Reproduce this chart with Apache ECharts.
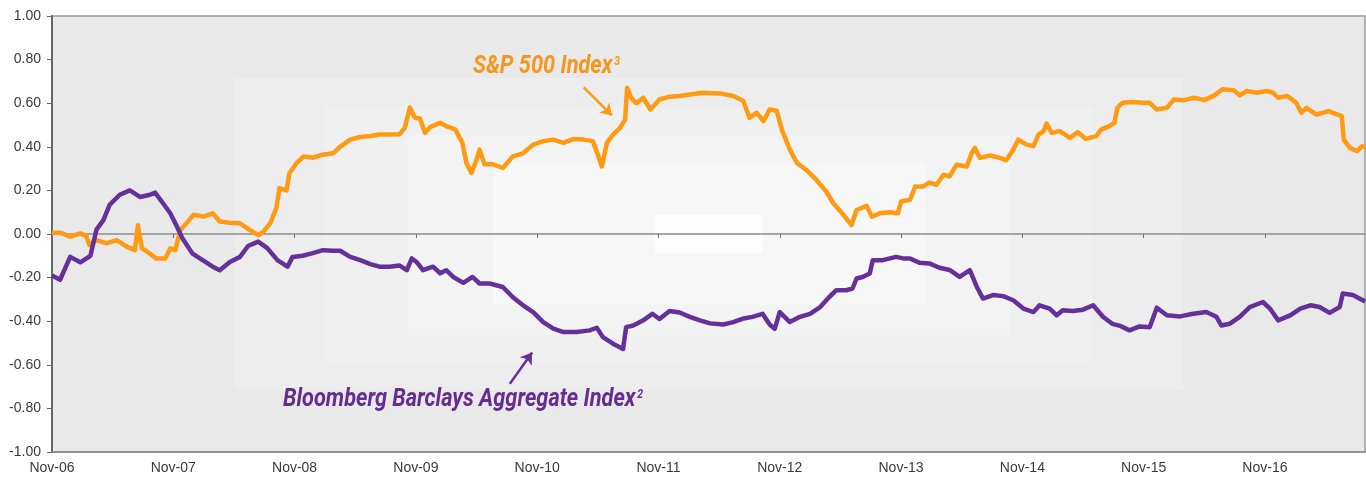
<!DOCTYPE html>
<html>
<head>
<meta charset="utf-8">
<script src="https://cdn.jsdelivr.net/npm/echarts@6/dist/echarts.min.js"></script>
<style>
  html, body { margin: 0; padding: 0; background: #fff; }
  #chart { width: 1366px; height: 478px; }
</style>
</head>
<body>
<div id="chart"></div>
<script>
// x positions are months since Nov-06
const xTickLabels = ["Nov-06", "Nov-07", "Nov-08", "Nov-09", "Nov-10", "Nov-11", "Nov-12", "Nov-13", "Nov-14", "Nov-15", "Nov-16"];

const spxMonths = [0, 0.8, 1.8, 2.8, 3.4, 3.7, 4.4, 5.4, 6.4, 7.4, 8.2, 8.5, 8.9, 9.7, 10.3, 11.2, 11.7, 12.2, 12.7, 13.3,
  14.0, 15.0, 15.9, 16.6, 17.6, 18.6, 19.6, 20.4, 20.9, 21.6, 22.2, 22.5, 23.2, 23.5, 24.2, 24.9, 25.8, 26.8, 27.8, 28.5,
  29.5, 30.5, 31.5, 32.4, 33.4, 34.4, 34.9, 35.4, 35.9, 36.4, 36.9, 37.4, 38.4, 39.0, 39.9, 40.6, 41.0, 41.5, 42.0, 42.3,
  42.8, 43.6, 44.6, 45.6, 46.6, 47.6, 48.6, 49.6, 50.6, 51.6, 52.6, 53.5, 54.0, 54.4, 54.9, 55.5, 56.2, 56.7, 56.9, 57.3,
  57.8, 58.5, 59.2, 60.1, 61.1, 62.1, 63.1, 64.4, 66.1, 67.4, 68.4, 69.0, 69.7, 70.4, 71.0, 71.7, 72.2, 73.0, 73.7, 74.6,
  75.6, 76.6, 77.3, 78.3, 79.1, 79.6, 80.6, 81.1, 81.9, 82.9, 83.7, 84.0, 84.9, 85.4, 86.2, 86.8, 87.5, 88.2, 88.8, 89.5,
  90.5, 91.0, 91.3, 91.8, 92.8, 93.8, 94.4, 95.1, 95.6, 96.4, 97.1, 97.6, 98.1, 98.4, 98.9, 99.7, 100.7, 101.5, 102.3, 103.3,
  103.8, 104.6, 105.1, 105.4, 105.9, 106.9, 107.9, 108.6, 109.3, 110.3, 111.0, 112.0, 113.0, 114.0, 115.0, 115.8, 116.9, 117.5, 118.2, 119.2,
  120.2, 120.8, 121.3, 122.2, 123.1, 123.6, 124.1, 125.1, 126.3, 127.6, 127.8, 128.4, 129.1, 129.6, 129.9];
const spxCorr = [0.006, 0.006, -0.012, 0.003, -0.01, -0.05, -0.028, -0.043, -0.028, -0.058, -0.074, 0.04, -0.066, -0.09, -0.112, -0.112, -0.066, -0.074, 0.018, 0.049,
  0.088, 0.08, 0.095, 0.057, 0.052, 0.049, 0.018, -0.005, 0.01, 0.05, 0.12, 0.21, 0.2, 0.28, 0.326, 0.356, 0.35, 0.364, 0.37, 0.40,
  0.433, 0.445, 0.45, 0.456, 0.456, 0.458, 0.487, 0.58, 0.533, 0.53, 0.464, 0.49, 0.51, 0.495, 0.48, 0.418, 0.326, 0.28, 0.34, 0.387,
  0.32, 0.32, 0.303, 0.356, 0.37, 0.41, 0.426, 0.433, 0.418, 0.436, 0.433, 0.426, 0.364, 0.31, 0.418, 0.456, 0.487, 0.525, 0.671, 0.625,
  0.60, 0.625, 0.571, 0.617, 0.63, 0.633, 0.64, 0.648, 0.645, 0.633, 0.61, 0.533, 0.556, 0.518, 0.571, 0.565, 0.479, 0.387, 0.326, 0.295,
  0.249, 0.195, 0.141, 0.088, 0.041, 0.11, 0.129, 0.08, 0.095, 0.1, 0.095, 0.149, 0.157, 0.218, 0.218, 0.236, 0.226, 0.272, 0.264, 0.318,
  0.31, 0.372, 0.395, 0.349, 0.36, 0.349, 0.338, 0.387, 0.433, 0.41, 0.403, 0.456, 0.472, 0.507, 0.464, 0.472, 0.441, 0.467, 0.436, 0.449,
  0.479, 0.495, 0.51, 0.579, 0.602, 0.605, 0.602, 0.602, 0.571, 0.579, 0.617, 0.614, 0.625, 0.614, 0.636, 0.664, 0.66, 0.636, 0.656, 0.648,
  0.656, 0.648, 0.625, 0.633, 0.602, 0.556, 0.579, 0.548, 0.564, 0.541, 0.433, 0.395, 0.38, 0.402, 0.40];

const aggMonths = [0, 0.8, 1.8, 2.8, 3.8, 4.4, 5.1, 5.7, 6.7, 7.7, 8.7, 9.7, 10.2, 11.0, 11.7, 12.3, 12.9, 13.9, 14.9, 15.9,
  16.6, 17.6, 18.6, 19.4, 20.4, 21.3, 22.3, 23.3, 23.8, 24.8, 25.8, 26.8, 27.8, 28.5, 29.5, 30.5, 31.5, 32.4, 33.4, 34.4,
  35.1, 35.6, 36.1, 36.7, 37.7, 38.4, 39.0, 39.7, 40.7, 41.6, 42.3, 43.3, 44.6, 45.6, 46.6, 47.6, 48.6, 49.6, 50.6, 51.9,
  53.2, 53.9, 54.5, 55.5, 56.5, 56.8, 57.5, 58.5, 59.4, 60.1, 61.1, 62.1, 63.1, 64.1, 65.1, 66.4, 67.4, 68.3, 69.3, 70.3,
  71.0, 71.5, 72.0, 73.0, 74.0, 75.0, 76.0, 76.9, 77.6, 78.6, 79.2, 79.6, 80.2, 80.9, 81.2, 82.2, 83.5, 84.2, 84.9, 85.8,
  86.8, 87.8, 88.8, 89.8, 90.8, 91.5, 92.1, 93.1, 94.1, 95.1, 96.1, 97.1, 97.7, 98.7, 99.4, 100.0, 101.0, 102.0, 103.0, 104.0,
  104.9, 105.6, 106.6, 107.6, 108.6, 109.3, 110.3, 111.6, 112.9, 114.2, 115.2, 115.7, 116.5, 117.5, 118.5, 119.8, 120.5, 121.3, 122.5, 123.5,
  124.5, 125.4, 126.4, 127.4, 127.7, 128.7, 129.9];
const aggCorr = [-0.19, -0.21, -0.105, -0.13, -0.10, 0.02, 0.065, 0.134, 0.18, 0.20, 0.17, 0.18, 0.19, 0.14, 0.095, 0.04, -0.02, -0.09, -0.12, -0.15,
  -0.166, -0.128, -0.105, -0.055, -0.035, -0.065, -0.12, -0.15, -0.105, -0.10, -0.088, -0.074, -0.077, -0.077, -0.105, -0.12, -0.138, -0.15, -0.15, -0.145,
  -0.166, -0.112, -0.13, -0.166, -0.15, -0.18, -0.166, -0.197, -0.224, -0.197, -0.227, -0.227, -0.243, -0.29, -0.327, -0.358, -0.404, -0.434, -0.45, -0.45,
  -0.442, -0.43, -0.473, -0.503, -0.527, -0.427, -0.42, -0.396, -0.366, -0.39, -0.353, -0.36, -0.38, -0.396, -0.41, -0.415, -0.404, -0.389, -0.38, -0.366,
  -0.415, -0.435, -0.358, -0.404, -0.38, -0.366, -0.335, -0.289, -0.258, -0.258, -0.25, -0.204, -0.197, -0.181, -0.12, -0.12, -0.105, -0.112, -0.112, -0.132,
  -0.135, -0.155, -0.165, -0.197, -0.166, -0.243, -0.296, -0.28, -0.285, -0.304, -0.342, -0.358, -0.327, -0.342, -0.373, -0.35, -0.353, -0.347, -0.327, -0.381,
  -0.412, -0.42, -0.442, -0.424, -0.428, -0.338, -0.373, -0.378, -0.366, -0.358, -0.38, -0.42, -0.412, -0.38, -0.335, -0.312, -0.342, -0.396, -0.373, -0.342,
  -0.327, -0.335, -0.362, -0.335, -0.273, -0.28, -0.31];

const spxColor = "#ff9a12";
const aggColor = "#66309a";

// plot frame in pixels and the stepped light-centre backdrop
const plot = { x: 52, y: 16, w: 1313, h: 436 };
const backdrop = [
  { x0: 52, y0: 16, x1: 1365, y1: 452, fill: "#e9e9e9" },
  { x0: 235, y0: 78, x1: 1183, y1: 390, fill: "#ededed" },
  { x0: 325, y0: 107, x1: 1093, y1: 362, fill: "#f0f0f0" },
  { x0: 407, y0: 135, x1: 1010, y1: 335, fill: "#f3f3f3" },
  { x0: 493, y0: 163, x1: 925, y1: 305, fill: "#f7f7f7" },
  { x0: 655, y0: 215, x1: 763, y1: 253, fill: "#fdfdfd" },
];

const zip = (xs, ys) => xs.map((x, i) => [x, ys[i]]);
const yearTicks = xTickLabels.map((_, i) => i * 12);

function callout(x, y, main, sup, color) {
  const font = { fontFamily: "Roboto", fontStyle: "italic", fontWeight: "bold", fill: color };
  return {
    type: "text",
    z: 20,
    x,
    y,
    scaleX: 0.87,
    style: {
      text: `{m|${main}}{s|${sup}}`,
      verticalAlign: "middle",
      rich: {
        m: { ...font, fontSize: 25 },
        s: { ...font, fontSize: 12, verticalAlign: "top", padding: [1, 0, 0, 2] },
      },
    },
  };
}

const chart = echarts.init(document.getElementById("chart"), null, { renderer: "canvas" });

chart.setOption({
  animation: false,
  backgroundColor: "#ffffff",
  grid: {
    left: plot.x,
    top: plot.y,
    width: plot.w,
    height: plot.h,
    containLabel: false,
    outerBoundsMode: "none",
  },
  xAxis: [
    {
      type: "value",
      min: 0,
      max: 129.9,
      interval: 12,
      position: "bottom",
      z: 3,
      axisLine: { onZero: false, lineStyle: { color: "#8c8c8c", width: 1.5 } },
      axisTick: { show: false },
      splitLine: { show: false },
      axisLabel: {
        customValues: yearTicks,
        color: "#3a3a3a",
        fontFamily: "Liberation Sans, Arial, sans-serif",
        fontSize: 14,
        margin: 9,
        formatter: (v) => xTickLabels[Math.round(v / 12)] || "",
      },
    },
    {
      type: "value",
      min: 0,
      max: 129.9,
      interval: 12,
      position: "top",
      z: 3,
      axisLine: { onZero: true, lineStyle: { color: "#8c8c8c", width: 1.5 } },
      axisTick: { show: true, inside: true, length: 4, customValues: yearTicks, lineStyle: { color: "#6f6f6f", width: 1 } },
      axisLabel: { show: false },
      splitLine: { show: false },
    },
  ],
  yAxis: {
    type: "value",
    min: -1,
    max: 1,
    interval: 0.2,
    z: 3,
    axisLine: { show: true, onZero: false, lineStyle: { color: "#666666", width: 2 } },
    axisTick: { show: true, length: 5, lineStyle: { color: "#666666", width: 1 } },
    splitLine: { show: false },
    axisLabel: {
      color: "#3a3a3a",
      fontFamily: "Liberation Sans, Arial, sans-serif",
      fontSize: 14,
      margin: 11,
      formatter: (v) => v.toFixed(2),
    },
  },
  graphic: [
    ...backdrop.map((r, i) => ({
      type: "rect",
      z: 0,
      silent: true,
      shape: { x: r.x0, y: r.y0, width: r.x1 - r.x0, height: r.y1 - r.y0 },
      style: i === 0 ? { fill: r.fill, stroke: "#9a9a9a", lineWidth: 1.5 } : { fill: r.fill },
    })),
    callout(473, 67, "S&P 500 Index", "3", "#f7961c"),
    callout(283, 400, "Bloomberg Barclays Aggregate Index", "2", "#662d91"),
  ],
  series: [
    {
      name: "S&P 500 Index",
      type: "line",
      z: 5,
      xAxisIndex: 0,
      data: zip(spxMonths, spxCorr),
      showSymbol: false,
      lineStyle: { color: spxColor, width: 4.5, join: "round" },
      itemStyle: { color: spxColor },
      markLine: {
        silent: true,
        symbol: ["none", "arrow"],
        symbolSize: 11,
        label: { show: false },
        lineStyle: { color: spxColor, width: 2.5, type: "solid" },
        data: [[{ coord: [52.6, 0.673] }, { coord: [55.4, 0.544] }]],
      },
    },
    {
      name: "Bloomberg Barclays Aggregate Index",
      type: "line",
      z: 5,
      xAxisIndex: 0,
      data: zip(aggMonths, aggCorr),
      showSymbol: false,
      lineStyle: { color: aggColor, width: 4.5, join: "round" },
      itemStyle: { color: aggColor },
      markLine: {
        silent: true,
        symbol: ["none", "arrow"],
        symbolSize: 11,
        label: { show: false },
        lineStyle: { color: aggColor, width: 2.5, type: "solid" },
        data: [[{ coord: [45.3, -0.687] }, { coord: [47.5, -0.544] }]],
      },
    },
  ],
});
</script>
</body>
</html>
